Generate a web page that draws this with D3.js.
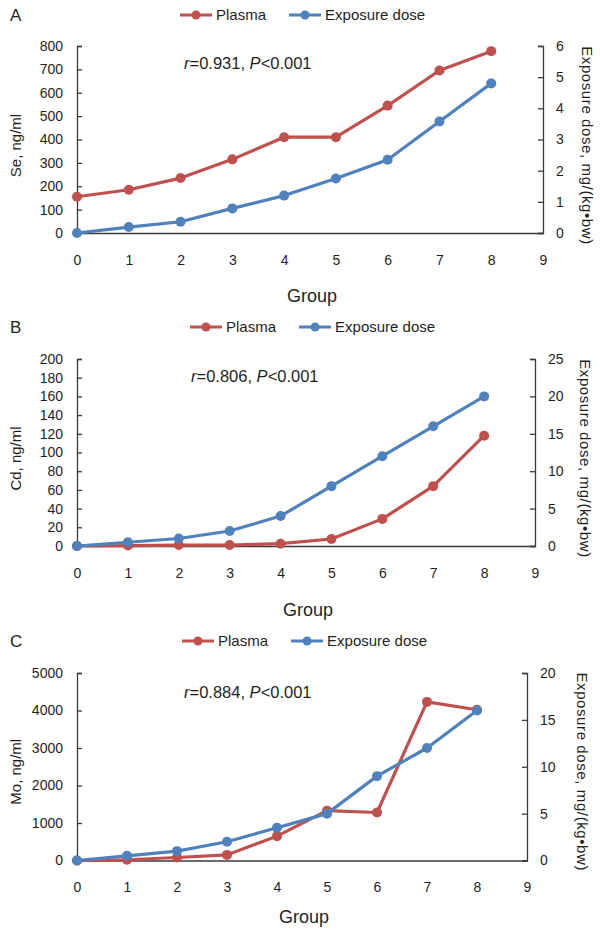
<!DOCTYPE html>
<html>
<head>
<meta charset="utf-8">
<script src="https://cdn.jsdelivr.net/npm/d3@7"></script>
<style>
    body { margin: 0; background: #fff; }
    svg { display: block; font-family: "Liberation Sans", Arial, sans-serif; }
</style>
</head>
<body>
<svg id="chart" width="600" height="933"></svg>
<script>
// values
const groups = [0, 1, 2, 3, 4, 5, 6, 7, 8];
const groupTicks = [0, 1, 2, 3, 4, 5, 6, 7, 8, 9];

const sePlasma = [155, 185, 235, 315, 410, 410, 545, 695, 778];
const seDose = [0, 0.19, 0.36, 0.79, 1.2, 1.75, 2.35, 3.58, 4.8];
const seTicks = [0, 100, 200, 300, 400, 500, 600, 700, 800];
const seDoseTicks = [0, 1, 2, 3, 4, 5, 6];

const cdPlasma = [0, 0.5, 1, 1, 2.5, 7.5, 29, 64, 118];
const cdDose = [0, 0.5, 1, 2, 4, 8, 12, 16, 20];
const cdTicks = [0, 20, 40, 60, 80, 100, 120, 140, 160, 180, 200];
const cdDoseTicks = [0, 5, 10, 15, 20, 25];

const moPlasma = [0, 20, 80, 150, 650, 1330, 1280, 4230, 4020];
const moDose = [0, 0.5, 1, 2, 3.5, 5, 9, 12, 16];
const moTicks = [0, 1000, 2000, 3000, 4000, 5000];
const moDoseTicks = [0, 5, 10, 15, 20];

const seriesNames = ["Plasma", "Exposure dose"];
const panelLetters = ["A", "B", "C"];
const leftTitles = ["Se, ng/ml", "Cd, ng/ml", "Mo, ng/ml"];
const rightTitle = "Exposure dose, mg/(kg\u2022bw)";
const corrR = ["0.931", "0.806", "0.884"];
const corrP = ["0.001", "0.001", "0.001"];

const red = "#c0504d",
    blue = "#4f81bd",
    axisColor = "#3a3a3a",
    textColor = "#1f1f1f";

// layout of each panel (pixels)
const layout = [
    {top: 46, bottom: 233, left: 77, right: 543, legendY: 15, legendX: 180, noteX: 184, noteY: 63, groupDy: 63, titleDy: 6, rightTitleX: 587},
    {top: 359, bottom: 546, left: 77, right: 535, legendY: 327, legendX: 190, noteX: 191, noteY: 376, groupDy: 64, titleDy: 6, rightTitleX: 585},
    {top: 673, bottom: 860.5, left: 77, right: 527, legendY: 641, legendX: 182, noteX: 184, noteY: 692, groupDy: 56, titleDy: 5, rightTitleX: 582}
];

const panels = [
    {plasma: sePlasma, dose: seDose, ticks: seTicks, doseTicks: seDoseTicks},
    {plasma: cdPlasma, dose: cdDose, ticks: cdTicks, doseTicks: cdDoseTicks},
    {plasma: moPlasma, dose: moDose, ticks: moTicks, doseTicks: moDoseTicks}
];

const svg = d3.select("#chart");

svg.append("rect")
    .attr("width", 600)
    .attr("height", 933)
    .attr("fill", "#fff");

const drawPanel = function (p, i) {
    const L = layout[i];
    const g = svg.append("g");

    const x = d3.scaleLinear()
        .domain([groupTicks[0], groupTicks[groupTicks.length - 1]])
        .range([L.left, L.right]);

    const yLeft = d3.scaleLinear()
        .domain([p.ticks[0], p.ticks[p.ticks.length - 1]])
        .range([L.bottom, L.top]);

    const yRight = d3.scaleLinear()
        .domain([p.doseTicks[0], p.doseTicks[p.doseTicks.length - 1]])
        .range([L.bottom, L.top]);

    // axes
    const leftAxis = g.append("g")
        .attr("transform", "translate(" + L.left + ",0)")
        .call(d3.axisLeft(yLeft)
            .tickValues(p.ticks)
            .tickFormat(d3.format("d"))
            .tickSizeInner(-5)
            .tickSizeOuter(-5)
            .tickPadding(14));

    const rightAxis = g.append("g")
        .attr("transform", "translate(" + L.right + ",0)")
        .call(d3.axisRight(yRight)
            .tickValues(p.doseTicks)
            .tickFormat(d3.format("d"))
            .tickSizeInner(-5)
            .tickSizeOuter(-5)
            .tickPadding(13));

    const bottomAxis = g.append("g")
        .attr("transform", "translate(0," + L.bottom + ")")
        .call(d3.axisBottom(x)
            .tickValues(groupTicks)
            .tickFormat(d3.format("d"))
            .tickSize(0)
            .tickPadding(22));

    [leftAxis, rightAxis, bottomAxis].forEach(function (a) {
        a.attr("font-family", null).attr("font-size", 14);
        a.selectAll("path, line").attr("stroke", axisColor).attr("stroke-width", 1.3);
        a.selectAll("text").attr("fill", textColor);
    });

    // series
    const line = function (yScale, values) {
        return d3.line()
            .x(function (d, k) { return x(groups[k]); })
            .y(function (d) { return yScale(d); })(values);
    };

    const series = [
        {values: p.plasma, scale: yLeft, color: red},
        {values: p.dose, scale: yRight, color: blue}
    ];

    series.forEach(function (s) {
        g.append("path")
            .attr("d", line(s.scale, s.values))
            .attr("fill", "none")
            .attr("stroke", s.color)
            .attr("stroke-width", 3.2)
            .attr("stroke-linejoin", "round");

        g.selectAll(null)
            .data(s.values)
            .enter()
            .append("circle")
                .attr("cx", function (d, k) { return x(groups[k]); })
                .attr("cy", function (d) { return s.scale(d); })
                .attr("r", 5)
                .attr("fill", s.color);
    });

    // panel letter
    g.append("text")
        .attr("x", 10)
        .attr("y", L.legendY)
        .attr("dy", "0.36em")
        .attr("font-size", 17)
        .attr("fill", textColor)
        .text(panelLetters[i]);

    // legend
    const legendColors = [red, blue];
    let lx = L.legendX;
    seriesNames.forEach(function (name, k) {
        const item = g.append("g")
            .attr("transform", "translate(" + lx + "," + L.legendY + ")");
        item.append("line")
            .attr("x1", 0)
            .attr("x2", 32)
            .attr("stroke", legendColors[k])
            .attr("stroke-width", 3);
        item.append("circle")
            .attr("cx", 16)
            .attr("r", 4.5)
            .attr("fill", legendColors[k]);
        const t = item.append("text")
            .attr("x", 36)
            .attr("dy", "0.36em")
            .attr("font-size", 15)
            .attr("fill", textColor)
            .text(name);
        lx += 36 + t.node().getComputedTextLength() + 23;
    });

    // correlation note
    const note = g.append("text")
        .attr("x", L.noteX)
        .attr("y", L.noteY)
        .attr("dy", "0.36em")
        .attr("font-size", 16.5)
        .attr("fill", textColor);
    note.append("tspan").attr("font-style", "italic").text("r");
    note.append("tspan").text("=" + corrR[i] + ", ");
    note.append("tspan").attr("font-style", "italic").text("P");
    note.append("tspan").text("<" + corrP[i]);

    // axis titles
    const midY = (L.top + L.bottom) / 2 + L.titleDy;

    g.append("text")
        .attr("transform", "translate(16," + midY + ") rotate(-90)")
        .attr("text-anchor", "middle")
        .attr("dy", "0.36em")
        .attr("font-size", 15)
        .attr("fill", textColor)
        .text(leftTitles[i]);

    g.append("text")
        .attr("transform", "translate(" + L.rightTitleX + "," + midY + ") rotate(90)")
        .attr("text-anchor", "middle")
        .attr("dy", "0.36em")
        .attr("font-size", 15)
        .attr("letter-spacing", 0.6)
        .attr("fill", textColor)
        .text(rightTitle);

    g.append("text")
        .attr("x", (L.left + L.right) / 2 + 2)
        .attr("y", L.bottom + L.groupDy)
        .attr("dy", "0.36em")
        .attr("text-anchor", "middle")
        .attr("font-size", 18)
        .attr("fill", textColor)
        .text("Group");
};

panels.forEach(drawPanel);
</script>
</body>
</html>
